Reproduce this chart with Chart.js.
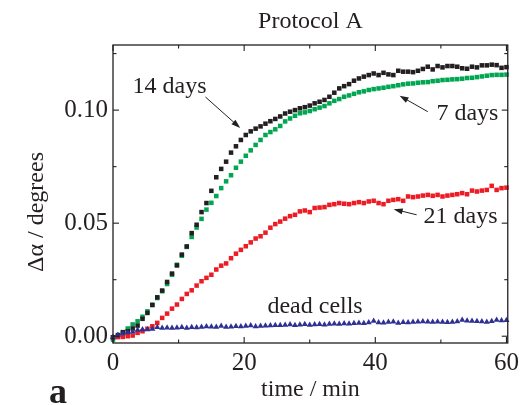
<!DOCTYPE html>
<html>
<head>
<meta charset="utf-8">
<script src="https://cdn.jsdelivr.net/npm/chart.js@4.4.1/dist/chart.umd.min.js"></script>
<style>
  html, body { margin: 0; padding: 0; background: #ffffff; }
  #wrap { width: 524px; height: 405px; }
</style>
</head>
<body>
<div id="wrap"><canvas id="c" width="524" height="405"></canvas></div>
<script>
// Sampling times (min)
const time = [0, 0.75, 1.5, 2.25, 3, 3.75, 4.5, 5.25, 6, 6.75, 7.5, 8.25, 9, 9.75, 10.5, 11.25,
  12, 12.75, 13.5, 14.25, 15, 15.75, 16.5, 17.25, 18, 18.75, 19.5, 20.25, 21, 21.75, 22.5, 23.25,
  24, 24.75, 25.5, 26.25, 27, 27.75, 28.5, 29.25, 30, 30.75, 31.5, 32.25, 33, 33.75, 34.5, 35.25,
  36, 36.75, 37.5, 38.25, 39, 39.75, 40.5, 41.25, 42, 42.75, 43.5, 44.25, 45, 45.75, 46.5, 47.25,
  48, 48.75, 49.5, 50.25, 51, 51.75, 52.5, 53.25, 54, 54.75, 55.5, 56.25, 57, 57.75, 58.5, 59.25, 60];

// Δα (degrees) for each culture age
const days14 = [-0.0005, 0.0005, 0.0018, 0.0022, 0.0034, 0.0047, 0.0077, 0.0103, 0.0138, 0.0172,
  0.0202, 0.0240, 0.0277, 0.0313, 0.0361, 0.0397, 0.0456, 0.0493, 0.0549, 0.0589,
  0.0643, 0.0703, 0.0740, 0.0772, 0.0812, 0.0840, 0.0868, 0.0890, 0.0906, 0.0918,
  0.0928, 0.0940, 0.0951, 0.0961, 0.0972, 0.0985, 0.0993, 0.1000, 0.1008, 0.1013,
  0.1020, 0.1030, 0.1037, 0.1045, 0.1059, 0.1077, 0.1096, 0.1106, 0.1115, 0.1130,
  0.1140, 0.1148, 0.1155, 0.1162, 0.1155, 0.1165, 0.1158, 0.1155, 0.1174, 0.1170,
  0.1170, 0.1168, 0.1174, 0.1182, 0.1192, 0.1180, 0.1195, 0.1189, 0.1195, 0.1195,
  0.1192, 0.1185, 0.1183, 0.1192, 0.1189, 0.1198, 0.1198, 0.1201, 0.1199, 0.1187,
  0.1190];

const days7 = [-0.0015, 0.0000, 0.0011, 0.0034, 0.0052, 0.0066, 0.0086, 0.0110, 0.0139, 0.0169,
  0.0199, 0.0231, 0.0272, 0.0316, 0.0356, 0.0395, 0.0439, 0.0481, 0.0519, 0.0560,
  0.0590, 0.0620, 0.0655, 0.0685, 0.0712, 0.0745, 0.0772, 0.0798, 0.0822, 0.0846,
  0.0868, 0.0890, 0.0903, 0.0915, 0.0930, 0.0950, 0.0963, 0.0975, 0.0986, 0.0990,
  0.0996, 0.1004, 0.1011, 0.1018, 0.1030, 0.1041, 0.1049, 0.1059, 0.1065, 0.1072,
  0.1079, 0.1083, 0.1089, 0.1093, 0.1096, 0.1099, 0.1103, 0.1106, 0.1110, 0.1114,
  0.1117, 0.1118, 0.1121, 0.1123, 0.1124, 0.1128, 0.1130, 0.1133, 0.1134, 0.1136,
  0.1137, 0.1139, 0.1142, 0.1143, 0.1146, 0.1149, 0.1152, 0.1155, 0.1156, 0.1156,
  0.1157];

const days21 = [-0.0005, -0.0004, -0.0003, 0.0000, 0.0003, 0.0015, 0.0022, 0.0033, 0.0044, 0.0059,
  0.0081, 0.0100, 0.0122, 0.0140, 0.0165, 0.0187, 0.0203, 0.0224, 0.0243, 0.0258,
  0.0272, 0.0295, 0.0312, 0.0322, 0.0345, 0.0365, 0.0382, 0.0398, 0.0415, 0.0432,
  0.0442, 0.0458, 0.0480, 0.0496, 0.0507, 0.0520, 0.0531, 0.0537, 0.0552, 0.0556,
  0.0549, 0.0567, 0.0569, 0.0571, 0.0581, 0.0584, 0.0589, 0.0586, 0.0584, 0.0589,
  0.0593, 0.0589, 0.0596, 0.0599, 0.0589, 0.0584, 0.0599, 0.0603, 0.0606, 0.0599,
  0.0618, 0.0615, 0.0618, 0.0622, 0.0625, 0.0621, 0.0625, 0.0618, 0.0622, 0.0625,
  0.0628, 0.0633, 0.0628, 0.0644, 0.0640, 0.0644, 0.0647, 0.0665, 0.0647, 0.0655,
  0.0657];

const deadCells = [-0.0003, 0.0005, 0.0012, 0.0016, 0.0020, 0.0027, 0.0030, 0.0030, 0.0032, 0.0040,
  0.0036, 0.0037, 0.0036, 0.0037, 0.0040, 0.0036, 0.0040, 0.0039, 0.0041, 0.0043,
  0.0042, 0.0041, 0.0045, 0.0041, 0.0042, 0.0044, 0.0043, 0.0045, 0.0047, 0.0043,
  0.0045, 0.0046, 0.0047, 0.0049, 0.0048, 0.0050, 0.0052, 0.0049, 0.0051, 0.0053,
  0.0050, 0.0052, 0.0053, 0.0051, 0.0054, 0.0055, 0.0054, 0.0056, 0.0055, 0.0057,
  0.0058, 0.0057, 0.0061, 0.0067, 0.0061, 0.0060, 0.0063, 0.0064, 0.0059, 0.0062,
  0.0061, 0.0063, 0.0064, 0.0065, 0.0064, 0.0063, 0.0064, 0.0063, 0.0062, 0.0063,
  0.0065, 0.0072, 0.0068, 0.0067, 0.0066, 0.0065, 0.0063, 0.0066, 0.0072, 0.0069,
  0.0071];

// Axis ticks
const xTicks = [0, 20, 40, 60];
const xTickLabels = ['0', '20', '40', '60'];
const xMinorTicks = [10, 30, 50];
const yTicks = [0, 0.05, 0.10];
const yTickLabels = ['0.00', '0.05', '0.10'];
const yMinorTicks = [0.025, 0.075, 0.125];

const ink = '#231f20';
const serif = '"Liberation Serif", "Times New Roman", serif';

// Curve labels with their pointer arrows (data coordinates)
const notes = [
  { text: '14 days', at: [2.98, 0.1074], from: [14.1, 0.1058], to: [19.4, 0.0921] },
  { text: '7 days', at: [49.32, 0.0956], from: [48.0, 0.0993], to: [43.7, 0.1064] },
  { text: '21 days', at: [47.36, 0.0500], from: [46.3, 0.0537], to: [42.8, 0.0562] },
  { text: 'dead cells', at: [23.55, 0.0101] }
];

function pts(values) {
  return values.map((v, i) => ({ x: time[i], y: v }));
}

function series(label, values, color, style, radius, order) {
  return {
    label, data: pts(values), showLine: false, order,
    pointStyle: style, pointRadius: radius, pointHoverRadius: radius,
    pointBackgroundColor: color, pointBorderColor: color, pointBorderWidth: 0,
    backgroundColor: color, borderColor: color, clip: false
  };
}

function arrow(ctx, x0, y0, x1, y1) {
  const ang = Math.atan2(y1 - y0, x1 - x0);
  const len = 9, half = 3;
  ctx.beginPath();
  ctx.moveTo(x0, y0);
  ctx.lineTo(x1 - Math.cos(ang) * len * 0.8, y1 - Math.sin(ang) * len * 0.8);
  ctx.stroke();
  ctx.beginPath();
  ctx.moveTo(x1, y1);
  ctx.lineTo(x1 - Math.cos(ang) * len + Math.sin(ang) * half, y1 - Math.sin(ang) * len - Math.cos(ang) * half);
  ctx.lineTo(x1 - Math.cos(ang) * len - Math.sin(ang) * half, y1 - Math.sin(ang) * len + Math.cos(ang) * half);
  ctx.closePath();
  ctx.fill();
}

// Box frame with inward ticks on all four sides, plus the text decorations
const framePlugin = {
  id: 'frame',
  afterDraw(chart) {
    const { ctx, chartArea: a, scales: { x, y } } = chart;
    ctx.save();
    ctx.strokeStyle = ink;
    ctx.fillStyle = ink;
    ctx.lineWidth = 1.3;
    ctx.strokeRect(a.left, a.top, a.right - a.left, a.bottom - a.top);

    ctx.lineWidth = 1.1;
    const seg = (x0, y0, x1, y1) => { ctx.beginPath(); ctx.moveTo(x0, y0); ctx.lineTo(x1, y1); ctx.stroke(); };
    const xt = (vals, len) => vals.forEach(v => {
      const p = x.getPixelForValue(v);
      seg(p, a.bottom, p, a.bottom - len);
      seg(p, a.top, p, a.top + len);
    });
    const yt = (vals, len) => vals.forEach(v => {
      const p = y.getPixelForValue(v);
      seg(a.left, p, a.left + len, p);
      seg(a.right, p, a.right - len, p);
    });
    xt(xTicks, 6); xt(xMinorTicks, 3.5);
    yt(yTicks, 6); yt(yMinorTicks, 3.5);

    // curve labels and arrows
    ctx.font = '24px ' + serif;
    ctx.textBaseline = 'alphabetic';
    ctx.textAlign = 'left';
    ctx.lineWidth = 1;
    notes.forEach(n => {
      ctx.fillText(n.text, x.getPixelForValue(n.at[0]), y.getPixelForValue(n.at[1]));
      if (n.from) {
        arrow(ctx, x.getPixelForValue(n.from[0]), y.getPixelForValue(n.from[1]),
              x.getPixelForValue(n.to[0]), y.getPixelForValue(n.to[1]));
      }
    });

    // title and axis titles
    const cx = (a.left + a.right) / 2;
    ctx.textAlign = 'center';
    ctx.fillText('Protocol A', cx, 28);
    ctx.fillText('time / min', cx, 396);

    ctx.save();
    ctx.translate(43, 212);
    ctx.rotate(-Math.PI / 2);
    ctx.fillText('Δα / degrees', 0, 0);
    ctx.restore();

    // panel letter
    ctx.textAlign = 'left';
    ctx.font = 'bold 36px ' + serif;
    ctx.fillText('a', 49, 403);
    ctx.restore();
  }
};

new Chart(document.getElementById('c'), {
  type: 'scatter',
  data: {
    datasets: [
      series('14 days', days14, '#231f20', 'rect', 3.2, 2),
      series('7 days', days7, '#00a651', 'rect', 3.2, 4),
      series('21 days', days21, '#ed1c24', 'rect', 3.2, 3),
      series('dead cells', deadCells, '#2e3192', 'triangle', 3.5, 1)
    ]
  },
  options: {
    responsive: false,
    animation: false,
    devicePixelRatio: 1,
    layout: { padding: { left: 0, right: 15, top: 45, bottom: 0 } },
    plugins: { legend: { display: false }, tooltip: { enabled: false }, title: { display: false } },
    scales: {
      x: {
        type: 'linear', min: 0, max: 60.2,
        grid: { display: false, drawTicks: false },
        border: { display: false },
        afterBuildTicks: s => { s.ticks = xTicks.map(v => ({ value: v })); },
        afterFit: s => { s.height = 62; },
        ticks: {
          color: ink, padding: 5, maxRotation: 0, autoSkip: false,
          font: { family: serif, size: 25 },
          callback: (v, i) => xTickLabels[i]
        }
      },
      y: {
        type: 'linear', min: -0.003, max: 0.1288,
        grid: { display: false, drawTicks: false },
        border: { display: false },
        afterBuildTicks: s => { s.ticks = yTicks.map(v => ({ value: v })); },
        afterFit: s => { s.width = 113; },
        ticks: {
          color: ink, padding: 5, autoSkip: false,
          font: { family: serif, size: 25 },
          callback: (v, i) => yTickLabels[i]
        }
      }
    }
  },
  plugins: [framePlugin]
});
</script>
</body>
</html>
